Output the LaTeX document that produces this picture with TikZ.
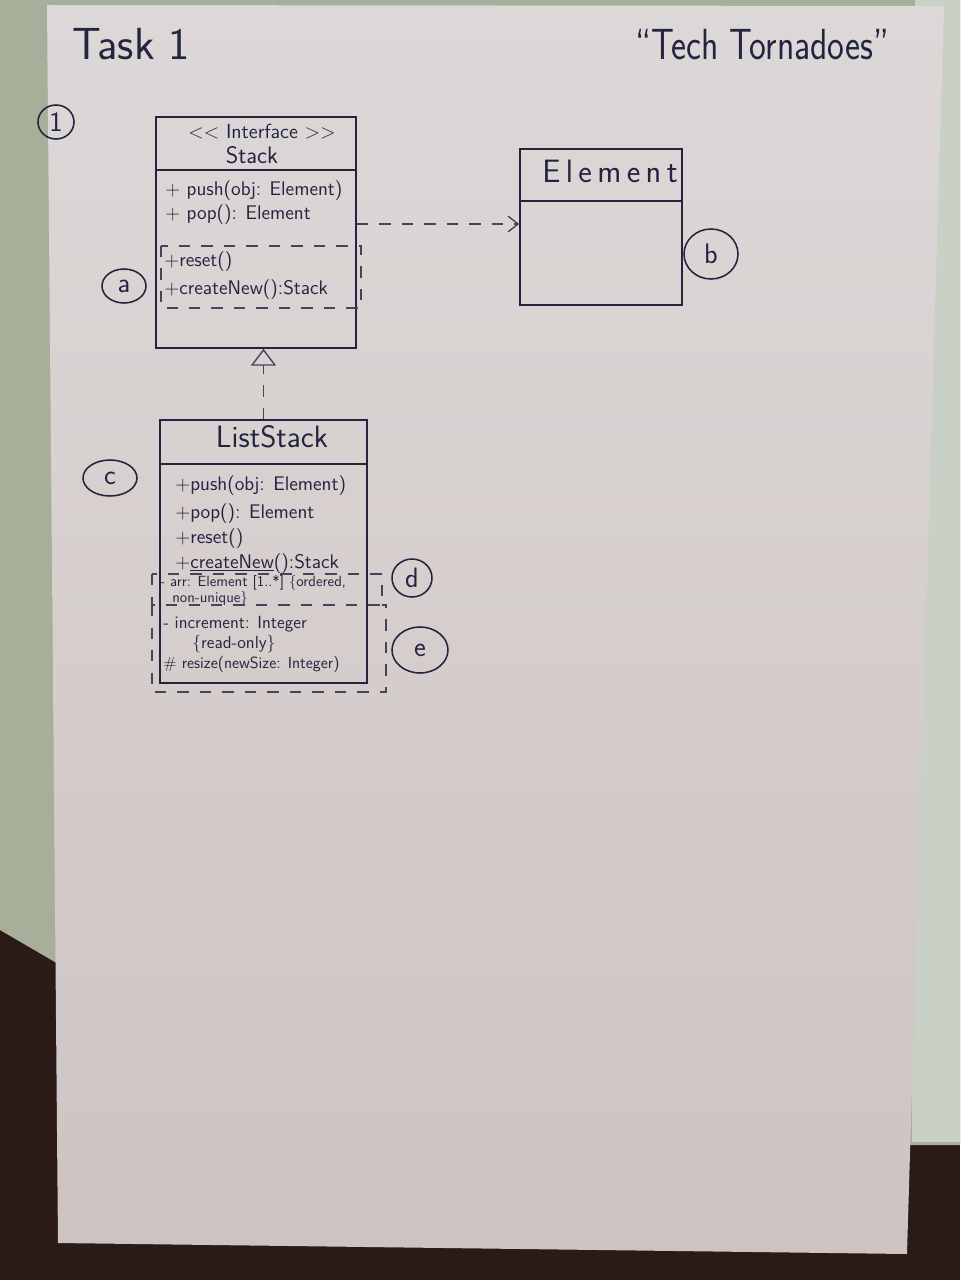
\documentclass[tikz,border=0pt]{standalone}
\usepackage{fontspec}
\usetikzlibrary{arrows.meta,shapes.geometric}
\definecolor{ink}{HTML}{23243F}
\definecolor{wall}{HTML}{A7AE9A}
\definecolor{glass}{HTML}{C9D0C6}
\definecolor{table}{HTML}{2A1B16}
\definecolor{papertop}{HTML}{DDD8D8}
\definecolor{paperbot}{HTML}{CDC4C2}
\newcommand{\fs}[1]{\fontsize{#1}{#1}\selectfont}
\begin{document}
\begin{tikzpicture}[x=0.025cm,y=-0.025cm,
  pen/.style={draw=ink,line width=1.1pt},
  dashpen/.style={draw=ink!85,line width=1pt,dash pattern=on 8pt off 8pt},
  hand/.style={text=ink,font=\sffamily,inner sep=0pt},
  classbox/.style={pen,rectangle,inner sep=0pt},
  tag/.style={pen,ellipse,inner sep=0pt,text=ink,font=\sffamily\fs{20}},
  dep/.style={dashpen,-{Straight Barb[length=7pt,width=11pt]}},
  realize/.style={dashpen,-{Triangle[open,length=12pt,width=18pt,line width=1pt]}}
]
\useasboundingbox (0,0) rectangle (960,1280);

% surroundings of the sheet
\fill[table] (0,0) rectangle (960,1280);
\fill[wall] (0,0) -- (960,0) -- (960,1145) -- (900,1145) -- (60,965) -- (0,930) -- cycle;
\fill[glass] (915,0) -- (960,0) -- (960,1142) -- (912,1142) -- cycle;

% the sheet of paper
\shade[top color=papertop,bottom color=paperbot]
  (47,5) -- (944,6) -- (907,1254) -- (58,1243) -- cycle;

% headings
\node[hand,anchor=base west,font=\sffamily\fs{32}] (task) at (72,60) {Task 1};
\node[hand,anchor=base west] (team) at (635,60)
  {\scalebox{0.82}[1]{\fs{31}“Tech Tornadoes”}};
\node[tag,minimum width=36*0.025cm,minimum height=34*0.025cm] (one) at (56,122) {1};

% interface Stack
\node[classbox,minimum width=5cm,minimum height=5.775cm] (stack) at (256,232.5) {};
\draw[pen] (156,170) -- (356,170);
\node[hand,anchor=base,font=\sffamily\fs{14.5}] (stackst) at (262,139) {{<}{<} Interface {>}{>}};
\node[hand,anchor=base,font=\sffamily\fs{17}] (stackname) at (252,164) {Stack};
\node[hand,anchor=base west,font=\sffamily\fs{14}] (spush) at (165,196) {+ push(obj: Element)};
\node[hand,anchor=base west,font=\sffamily\fs{14}] (spop) at (165,220) {+ pop(): Element};
\node[hand,anchor=base west,font=\sffamily\fs{14}] (sreset) at (164,266) {+reset()};
\node[hand,anchor=base west,font=\sffamily\fs{14}] (snew) at (164,294) {+createNew():Stack};
\draw[dashpen] (161,246) rectangle (361,308);
\node[tag,minimum width=44*0.025cm,minimum height=34*0.025cm] (ta) at (124,286) {a};

% class Element
\node[classbox,minimum width=4.05cm,minimum height=3.9cm] (element) at (601,227) {};
\draw[pen] (520,201) -- (682,201);
\node[hand,anchor=base,font=\sffamily\fs{23}] (elname) at (610,183) {E\,l\,e\,m\,e\,n\,t};
\node[tag,minimum width=54*0.025cm,minimum height=50*0.025cm] (tb) at (711,254) {b};

% dependency Stack -> Element
\coordinate (deplevel) at (0,224);
\draw[dep] (stack.east |- deplevel) -- (element.west |- deplevel);

% class ListStack
\node[classbox,minimum width=5.175cm,minimum height=6.575cm] (list) at (263.5,551.5) {};
\draw[pen] (160,464) -- (367,464);
\node[hand,anchor=base,font=\sffamily\fs{22}] (listname) at (272,447) {ListStack};
\node[hand,anchor=base west,font=\sffamily\fs{14}] (lpush) at (175,490) {+push(obj: Element)};
\node[hand,anchor=base west,font=\sffamily\fs{14}] (lpop) at (175,518) {+pop(): Element};
\node[hand,anchor=base west,font=\sffamily\fs{14}] (lreset) at (175,543) {+reset()};
\node[hand,anchor=base west,font=\sffamily\fs{14}] (lnew) at (175,568) {+\underline{createNew}():Stack};
\node[hand,anchor=base west,font=\sffamily\fs{10.5}] (larr) at (160,586) {- arr: Element [1..*] \{ordered,};
\node[hand,anchor=base west,font=\sffamily\fs{10.5}] (larr2) at (172,602) {non-unique\}};
\node[hand,anchor=base west,font=\sffamily\fs{12.5}] (linc) at (163,628) {- increment: Integer};
\node[hand,anchor=base west,font=\sffamily\fs{12.5}] (linc2) at (192,648) {\{read-only\}};
\node[hand,anchor=base west,font=\sffamily\fs{11.5}] (lres) at (163,668) {\# resize(newSize: Integer)};

% grouped members
\draw[dashpen] (152,574) rectangle (382,605);
\draw[dashpen] (152,605) -- (152,692) -- (386,692) -- (386,605) -- (382,605);

\node[tag,minimum width=54*0.025cm,minimum height=36*0.025cm] (tc) at (110,478) {c};
\node[tag,minimum width=40*0.025cm,minimum height=38*0.025cm] (td) at (412,578) {d};
\node[tag,minimum width=56*0.025cm,minimum height=46*0.025cm] (te) at (420,650) {e};

% realization ListStack -> Stack
\draw[realize] (list.north) -- (list.north |- stack.south);
\end{tikzpicture}
\end{document}
